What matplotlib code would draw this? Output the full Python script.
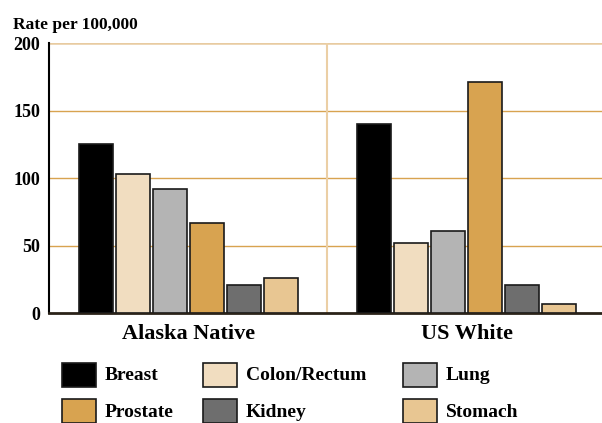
import numpy as np
import matplotlib
matplotlib.use("Agg")
import matplotlib.pyplot as plt
from matplotlib.patches import Rectangle

# ---------------- Data ----------------
groups = ["Alaska Native", "US White"]
sites = ["Breast", "Colon/Rectum", "Lung", "Prostate", "Kidney", "Stomach"]
alaska_native = [125, 103, 92, 67, 21, 26]
us_white = [140, 52, 61, 171, 21, 7]
colors = ["#000000", "#F1DDC0", "#B4B4B4", "#D8A350", "#6E6E6E", "#E8C692"]
yticks = [0, 50, 100, 150, 200]

plt.rcParams["font.family"] = ["Liberation Serif", "DejaVu Serif"]
plt.rcParams["font.weight"] = "bold"

W, H = 602, 423
fig = plt.figure(figsize=(W / 100, H / 100), dpi=100)
ax = fig.add_axes([0.081, 0.26, 0.919, 0.638])

values = np.array([alaska_native, us_white])
x = np.arange(len(groups))
step = 0.1326
width = 0.122
for i, site in enumerate(sites):
    offs = (i - 2.5) * step
    ax.bar(x + offs, values[:, i], width=width, color=colors[i],
           edgecolor="#1a1a1a", linewidth=1.2, zorder=3, label=site)

# grid lines
for yv in [50, 100, 150]:
    ax.axhline(yv, color="#D8A350", linewidth=1, zorder=1)
ax.axhline(200, color="#E8CBA0", linewidth=1.8, zorder=1)
ax.axvline(0.5, color="#EBCFA5", linewidth=1.5, zorder=1)

ax.set_xlim(-0.5, 1.485)
ax.set_ylim(0, 200)
ax.set_yticks(yticks)
ax.set_yticklabels([str(v) for v in yticks], fontsize=13, fontweight="bold")
ax.set_xticks(x)
ax.set_xticklabels(groups, fontsize=16, fontweight="bold")
ax.tick_params(axis="both", length=0, pad=6)
ax.tick_params(axis="x", pad=8)
for s in ["top", "right"]:
    ax.spines[s].set_visible(False)
ax.spines["left"].set_linewidth(1.5)
ax.spines["bottom"].set_linewidth(2)
ax.spines["bottom"].set_color("#2a2218")

fig.text(13 / W, 1 - 29 / H, "Rate per 100,000", fontsize=12.5, fontweight="bold")

# legend, placed by hand (3 columns x 2 rows)
leg_order = [[0, 1, 2], [3, 4, 5]]
col_x = [62, 203, 403]
row_top = [363, 399]
bw, bh = 34, 24
for r, row in enumerate(leg_order):
    for c, i in enumerate(row):
        x0, y0 = col_x[c], row_top[r]
        fig.add_artist(Rectangle((x0 / W, 1 - (y0 + bh) / H), bw / W, bh / H,
                                 transform=fig.transFigure, facecolor=colors[i],
                                 edgecolor="#1a1a1a", linewidth=1.2))
        fig.text((x0 + bw + 9) / W, 1 - (y0 + bh / 2 + 1) / H, sites[i],
                 fontsize=14, fontweight="bold", va="center", ha="left")

fig.savefig("out.png", dpi=100)
